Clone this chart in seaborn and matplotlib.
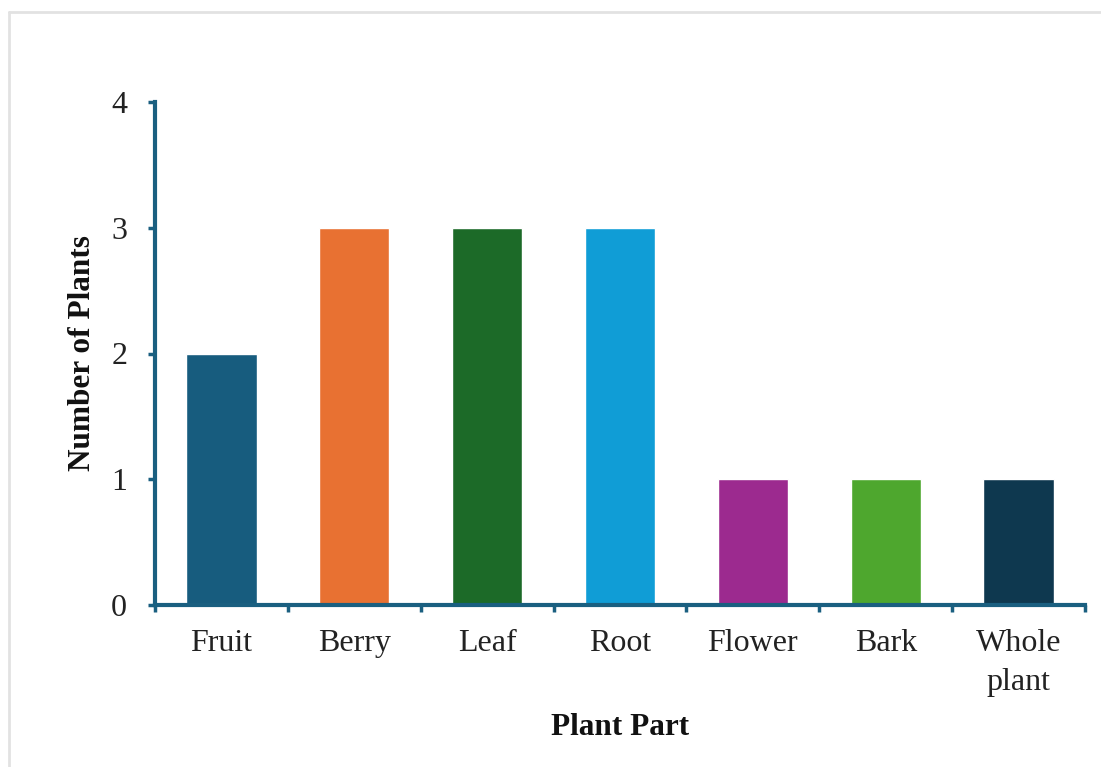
import matplotlib
matplotlib.use("Agg")
import matplotlib.pyplot as plt
from matplotlib.lines import Line2D
import seaborn as sns
import pandas as pd

parts = ["Fruit", "Berry", "Leaf", "Root", "Flower", "Bark", "Whole\nplant"]
counts = [2, 3, 3, 3, 1, 1, 1]
colors = ["#175c7e", "#e87132", "#1c6a28", "#109dd6", "#9c2a8f", "#4ea72e", "#0e384f"]
y_ticks = [0, 1, 2, 3, 4]

axis_color = "#1a5f80"

sns.set_theme(style="white")
plt.rcParams["font.family"] = ["Liberation Serif", "DejaVu Serif"]

df = pd.DataFrame({"part": parts, "count": counts})

fig = plt.figure(figsize=(11.01, 7.67), dpi=100)
ax = fig.add_axes([155 / 1101, 1 - 605 / 767, (1085 - 155) / 1101, (605 - 102) / 767])

sns.barplot(data=df, x="part", y="count", hue="part", palette=colors,
            order=parts, hue_order=parts, legend=False, width=0.53,
            saturation=1, ax=ax)

ax.set_xlim(-0.5, len(parts) - 0.5)
ax.set_ylim(0, 4)
ax.set_yticks(y_ticks)
ax.set_yticklabels([str(v) for v in y_ticks], fontsize=23, color="#222222")
ax.set_xticks(range(len(parts)))
ax.set_xticklabels(parts, fontsize=23, color="#222222", linespacing=1.45, va="top")

# category boundary ticks on the x axis
ax.set_xticks([i - 0.5 for i in range(len(parts) + 1)], minor=True)
ax.tick_params(axis="x", which="major", bottom=True, length=0, pad=17)
ax.tick_params(axis="x", which="minor", bottom=True, length=5, width=2.5,
               color=axis_color, direction="out")
ax.tick_params(axis="y", which="major", left=True, length=5, width=2.5,
               color=axis_color, direction="out", pad=15)

for side in ["top", "right"]:
    ax.spines[side].set_visible(False)
for side in ["left", "bottom"]:
    ax.spines[side].set_color(axis_color)
    ax.spines[side].set_linewidth(3)

ax.set_xlabel("Plant Part", fontsize=22.5, fontweight="bold", labelpad=12, color="#111111")
ax.set_ylabel("Number of Plants", fontsize=22.5, fontweight="bold", labelpad=10, color="#111111")

# thin frame along the top and left edges of the figure
fig.add_artist(Line2D([9 / 1101, 1], [1 - 12 / 767, 1 - 12 / 767],
                      transform=fig.transFigure, color="#e2e2e2", linewidth=2))
fig.add_artist(Line2D([9 / 1101, 9 / 1101], [0, 1 - 12 / 767],
                      transform=fig.transFigure, color="#e2e2e2", linewidth=2))

fig.savefig("out.png", dpi=100)
